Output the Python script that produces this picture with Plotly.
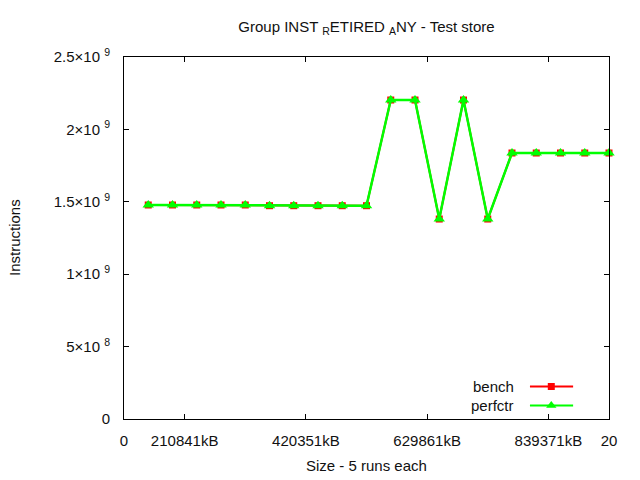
import plotly.graph_objects as go

runs = list(range(1, 21))
bench = [1.478e9, 1.478e9, 1.478e9, 1.478e9, 1.478e9,
         1.473e9, 1.473e9, 1.473e9, 1.473e9, 1.473e9,
         2.203e9, 2.203e9, 1.381e9, 2.203e9, 1.381e9,
         1.837e9, 1.837e9, 1.837e9, 1.837e9, 1.837e9]
perfctr = list(bench)

x_tickvals = [0, 2.5, 7.5, 12.5, 17.5, 20]
x_ticktext = ["0", "210841kB", "420351kB", "629861kB", "839371kB", "20"]
y_tickvals = [0, 0.5e9, 1e9, 1.5e9, 2e9, 2.5e9]
y_ticktext = ["0", "5×10 <sup>8</sup>", "1×10 <sup>9</sup>", "1.5×10 <sup>9</sup>",
              "2×10 <sup>9</sup>", "2.5×10 <sup>9</sup>"]

RED = "#ff0000"
GREEN = "#00ff00"
FONT = "Liberation Sans"
FS = 15
TXT = "#111"

fig = go.Figure()
fig.add_trace(go.Scatter(x=runs, y=bench, mode="lines+markers", name="bench",
                         line=dict(color=RED, width=2),
                         marker=dict(symbol="square", size=7, color=RED),
                         cliponaxis=False, showlegend=False))
fig.add_trace(go.Scatter(x=runs, y=perfctr, mode="lines+markers", name="perfctr",
                         line=dict(color=GREEN, width=2.5),
                         marker=dict(symbol="triangle-up", size=10, color=GREEN),
                         cliponaxis=False, showlegend=False))

# legend samples (gnuplot style: text left, sample right)
fig.add_trace(go.Scatter(x=[0.837, 0.926], y=[0.0898, 0.0898], mode="lines",
                         line=dict(color=RED, width=2), xaxis="x2", yaxis="y2",
                         showlegend=False, hoverinfo="skip"))
fig.add_trace(go.Scatter(x=[0.881], y=[0.0898], mode="markers",
                         marker=dict(symbol="square", size=7, color=RED),
                         xaxis="x2", yaxis="y2", showlegend=False, hoverinfo="skip"))
fig.add_trace(go.Scatter(x=[0.837, 0.926], y=[0.0373, 0.0373], mode="lines",
                         line=dict(color=GREEN, width=2), xaxis="x2", yaxis="y2",
                         showlegend=False, hoverinfo="skip"))
fig.add_trace(go.Scatter(x=[0.881], y=[0.0373], mode="markers",
                         marker=dict(symbol="triangle-up", size=9, color=GREEN),
                         xaxis="x2", yaxis="y2", showlegend=False, hoverinfo="skip"))

axis_common = dict(showline=True, linecolor="black", linewidth=1, mirror="ticks",
                   ticks="inside", ticklen=5, tickcolor="black", showgrid=False,
                   zeroline=False, tickfont=dict(family=FONT, size=FS, color=TXT))

fig.update_layout(
    width=640, height=480,
    margin=dict(l=124, r=31, t=57, b=61),
    paper_bgcolor="white", plot_bgcolor="white",
    font=dict(family=FONT, size=FS, color=TXT),
    title=dict(text="Group INST <sub>R</sub>ETIRED <sub>A</sub>NY - Test store",
               x=(124 + 609) / 2 / 640, xanchor="center", y=1 - 27 / 480, yanchor="middle",
               font=dict(family=FONT, size=FS, color=TXT)),
    xaxis=dict(range=[0, 20], tickvals=x_tickvals, ticktext=x_ticktext,
               ticklabelstandoff=8, **axis_common),
    yaxis=dict(range=[0, 2.5e9], tickvals=y_tickvals, ticktext=y_ticktext,
               ticklabelstandoff=10, **axis_common),
    xaxis2=dict(overlaying="x", range=[0, 1], visible=False),
    yaxis2=dict(overlaying="y", range=[0, 1], visible=False),
    annotations=[
        dict(text="bench", xref="x2", yref="y2", x=0.808, y=0.0898,
             xanchor="right", yanchor="middle", showarrow=False,
             font=dict(family=FONT, size=FS, color=TXT)),
        dict(text="perfctr", xref="x2", yref="y2", x=0.808, y=0.0373,
             xanchor="right", yanchor="middle", showarrow=False,
             font=dict(family=FONT, size=FS, color=TXT)),
        dict(text="Size - 5 runs each", xref="paper", yref="paper",
             x=0.5, y=-(465 - 419) / 362,
             xanchor="center", yanchor="middle", showarrow=False,
             font=dict(family=FONT, size=FS, color=TXT)),
        dict(text="Instructions", xref="paper", yref="paper",
             x=-(124 - 14) / 485, y=0.5, textangle=-90,
             xanchor="center", yanchor="middle", showarrow=False,
             font=dict(family=FONT, size=FS, color=TXT)),
    ],
)

fig.write_html("out.html")
